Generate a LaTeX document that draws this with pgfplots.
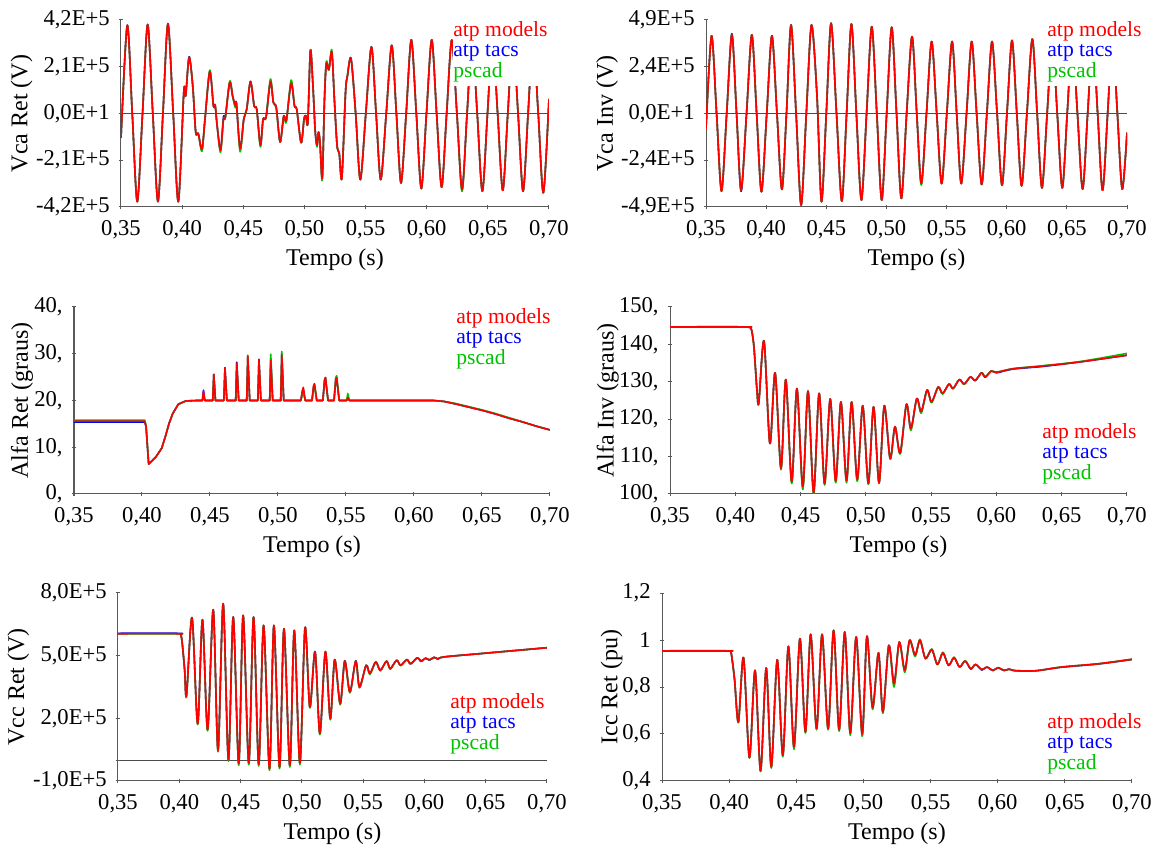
\documentclass[border=0pt]{standalone}
\usepackage{fontspec}
\setmainfont{Liberation Serif}
\usepackage{pgfplots}
\usepackage{pgfplotstable}
\pgfplotsset{compat=1.18}

\definecolor{cmod}{RGB}{255,0,0}
\definecolor{ctac}{RGB}{0,0,255}
\definecolor{cpsc}{RGB}{0,195,0}
\newcommand\lgfont{\fontsize{10.8}{10.25}\selectfont}

% t, atp models (r), atp tacs (b), pscad (g)
\pgfplotstableread{
t r b g
0.3500 -1.10 -1.10 -1.10
0.3551 3.95 3.97 3.95
0.3592 0.00 0.00 0.00
0.3633 -3.96 -3.96 -3.96
0.3676 0.00 0.00 0.00
0.3718 3.99 4.00 3.99
0.3760 0.00 0.00 0.00
0.3802 -3.96 -3.96 -3.96
0.3843 0.00 0.00 0.00
0.3884 4.02 4.04 4.02
0.3927 0.00 0.00 0.00
0.3969 -3.96 -3.96 -3.96
0.4014 1.00 1.00 1.00
0.4029 0.80 0.80 0.80
0.4057 2.52 2.55 2.52
0.4087 1.22 1.22 1.22
0.4111 -0.84 -0.84 -0.84
0.4132 -0.90 -0.90 -0.90
0.4162 -1.60 -1.63 -1.70
0.4187 -0.25 -0.25 -0.25
0.4226 1.89 1.89 1.95
0.4256 0.34 0.34 0.34
0.4270 0.37 0.37 0.40
0.4286 -0.54 -0.54 -0.54
0.4314 -1.65 -1.65 -1.75
0.4338 -0.25 -0.15 -0.25
0.4353 -0.18 -0.18 -0.18
0.4389 1.40 1.40 1.45
0.4413 0.78 0.78 0.78
0.4435 0.34 0.34 0.25
0.4444 0.45 0.45 0.45
0.4474 -1.58 -1.58 -1.72
0.4504 -0.25 -0.25 -0.25
0.4528 0.19 0.19 0.19
0.4559 1.44 1.44 1.44
0.4589 0.34 0.34 0.34
0.4610 0.19 0.19 0.19
0.4640 -1.43 -1.43 -1.50
0.4662 -0.25 -0.25 -0.25
0.4686 -0.18 -0.18 -0.18
0.4722 1.44 1.44 1.55
0.4746 0.49 0.49 0.49
0.4770 0.27 0.27 0.20
0.4801 -1.28 -1.28 -1.28
0.4831 -0.10 -0.10 -0.10
0.4852 -0.32 -0.32 -0.40
0.4891 1.37 1.37 1.50
0.4919 0.34 0.34 0.34
0.4937 0.19 0.19 0.19
0.4973 -1.31 -1.31 -1.31
0.4997 -0.25 -0.25 -0.25
0.5012 -0.10 -0.10 -0.10
0.5028 -0.40 -0.40 -0.40
0.5049 2.84 2.84 2.84
0.5070 1.22 1.22 1.22
0.5088 -0.77 -0.77 -0.77
0.5103 -1.43 -1.43 -1.50
0.5115 -0.84 -0.84 -0.84
0.5127 -1.28 -1.28 -1.28
0.5146 -2.90 -2.90 -3.00
0.5164 0.63 0.63 0.63
0.5179 2.25 2.25 2.35
0.5200 1.96 1.96 1.96
0.5224 2.77 2.77 2.85
0.5245 0.63 0.63 0.63
0.5267 -1.43 -1.43 -1.43
0.5285 -1.80 -1.80 -1.80
0.5306 -2.90 -2.90 -2.90
0.5336 0.93 0.93 0.93
0.5351 1.66 1.66 1.66
0.5381 2.47 2.47 2.47
0.5419 0.00 0.00 0.00
0.5457 -2.97 -2.97 -2.97
0.5502 0.00 0.00 0.00
0.5548 2.99 2.99 2.99
0.5586 0.00 0.00 0.00
0.5624 -2.97 -2.97 -2.97
0.5669 0.00 0.00 0.00
0.5714 3.06 3.06 3.06
0.5752 0.00 0.00 0.00
0.5790 -3.12 -3.12 -3.12
0.5832 0.00 0.00 0.00
0.5874 3.31 3.31 3.31
0.5915 0.00 0.00 0.00
0.5956 -3.37 -3.37 -3.37
0.5998 0.00 0.00 0.00
0.6041 3.31 3.31 3.31
0.6081 0.00 0.00 0.00
0.6122 -3.31 -3.31 -3.31
0.6163 0.00 0.00 0.00
0.6205 3.30 3.30 3.30
0.6247 0.00 0.00 0.00
0.6289 -3.42 -3.42 -3.50
0.6330 0.00 0.00 0.00
0.6371 3.30 3.30 3.30
0.6413 0.00 0.00 0.00
0.6455 -3.49 -3.49 -3.49
0.6497 0.00 0.00 0.00
0.6538 3.35 3.35 3.35
0.6580 0.00 0.00 0.00
0.6622 -3.45 -3.45 -3.45
0.6663 0.00 0.00 0.00
0.6705 3.40 3.40 3.40
0.6747 0.00 0.00 0.00
0.6788 -3.49 -3.49 -3.49
0.6829 0.00 0.00 0.00
0.6870 3.40 3.40 3.40
0.6912 0.00 0.00 0.00
0.6954 -3.56 -3.56 -3.56
0.7000 0.66 0.66 0.66
}\dataVcaRet

\pgfplotstableread{
t r b g
0.3500 -0.80 -0.80 -0.80
0.3546 4.07 4.07 4.07
0.3588 0.00 0.00 0.00
0.3629 -4.07 -4.07 -4.07
0.3672 0.00 0.00 0.00
0.3715 4.12 4.18 4.12
0.3754 0.00 0.00 0.00
0.3792 -4.02 -4.08 -4.02
0.3837 0.00 0.00 0.00
0.3881 4.12 4.12 4.12
0.3921 0.00 0.00 0.00
0.3961 -4.10 -4.10 -4.10
0.4005 0.00 0.00 0.00
0.4048 4.07 4.07 4.07
0.4090 0.00 0.00 0.00
0.4131 -3.98 -3.98 -3.98
0.4169 0.00 0.00 0.00
0.4207 4.64 4.64 4.64
0.4249 0.00 0.00 0.00
0.4291 -4.80 -4.80 -4.80
0.4334 0.00 0.00 0.00
0.4377 4.64 4.64 4.64
0.4423 0.90 0.90 0.90
0.4460 -4.62 -4.62 -4.62
0.4500 0.00 0.00 0.00
0.4540 4.73 4.73 4.73
0.4585 0.00 0.00 0.00
0.4629 -4.59 -4.59 -4.59
0.4669 0.00 0.00 0.00
0.4709 4.69 4.69 4.69
0.4750 0.00 0.00 0.00
0.4792 -4.54 -4.54 -4.54
0.4835 0.00 0.00 0.00
0.4878 4.55 4.55 4.55
0.4920 0.00 0.00 0.00
0.4961 -4.54 -4.54 -4.54
0.5002 0.00 0.00 0.00
0.5044 4.52 4.52 4.52
0.5084 0.00 0.00 0.00
0.5124 -4.45 -4.45 -4.45
0.5168 0.00 0.00 0.00
0.5213 4.03 4.03 4.03
0.5252 0.00 0.00 0.00
0.5290 -3.67 -3.67 -3.75
0.5333 0.00 0.00 0.00
0.5376 3.77 3.77 3.77
0.5418 0.00 0.00 0.00
0.5459 -3.67 -3.67 -3.67
0.5502 0.00 0.00 0.00
0.5546 3.77 3.77 3.77
0.5584 0.00 0.00 0.00
0.5622 -3.67 -3.67 -3.67
0.5666 0.00 0.00 0.00
0.5709 3.77 3.77 3.77
0.5750 0.00 0.00 0.00
0.5792 -3.72 -3.72 -3.72
0.5835 0.00 0.00 0.00
0.5878 3.77 3.77 3.77
0.5920 0.00 0.00 0.00
0.5961 -3.76 -3.76 -3.76
0.6002 0.00 0.00 0.00
0.6044 3.83 3.83 3.83
0.6084 0.00 0.00 0.00
0.6124 -3.79 -3.79 -3.79
0.6168 0.00 0.00 0.00
0.6213 3.90 3.90 3.90
0.6253 0.00 0.00 0.00
0.6293 -3.90 -3.90 -3.90
0.6336 0.00 0.00 0.00
0.6379 3.90 3.90 3.90
0.6420 0.00 0.00 0.00
0.6462 -3.90 -3.90 -3.90
0.6503 0.00 0.00 0.00
0.6545 3.90 3.90 3.90
0.6588 0.00 0.00 0.00
0.6631 -3.96 -3.96 -3.96
0.6673 0.00 0.00 0.00
0.6716 3.95 3.95 3.95
0.6756 0.00 0.00 0.00
0.6797 -4.02 -4.02 -4.02
0.6839 0.00 0.00 0.00
0.6880 3.95 3.95 3.95
0.6920 0.00 0.00 0.00
0.6960 -3.96 -3.96 -3.96
0.7000 -1.00 -1.00 -1.00
}\dataVcaInv

\pgfplotstableread{
t r b g
0.3500 15.6 15.4 15.8
0.4020 15.6 15.4 15.8
0.4030 14.5 14.3 14.7
0.4049 6.4 6.4 6.4
0.4104 8.0 8.0 8.0
0.4145 9.8 9.8 9.8
0.4172 12.3 12.3 12.3
0.4199 15.1 15.1 15.1
0.4226 17.2 17.2 17.2
0.4267 19.2 19.2 19.2
0.4322 19.9 19.9 19.9
0.4403 20.0 20.0 20.0
0.4444 20.0 20.0 20.0
0.4452 22.0 22.2 21.0
0.4462 20.0 20.0 20.0
0.4520 20.0 20.0 20.0
0.4528 25.6 25.6 25.4
0.4540 20.0 20.0 20.0
0.4602 20.0 20.0 20.0
0.4610 27.0 27.0 26.8
0.4624 20.0 20.0 20.0
0.4689 20.0 20.0 20.0
0.4697 28.0 28.2 27.7
0.4711 20.0 20.0 20.0
0.4770 20.0 20.0 20.0
0.4778 29.5 29.3 29.7
0.4792 20.0 20.0 20.0
0.4852 20.0 20.0 20.0
0.4860 28.8 28.8 28.6
0.4874 20.0 20.0 20.0
0.4939 20.0 20.0 20.0
0.4947 28.6 29.0 29.9
0.4961 20.0 20.0 20.0
0.5020 20.0 20.0 20.0
0.5028 29.7 30.0 30.5
0.5042 20.0 20.0 20.0
0.5168 20.0 20.0 20.0
0.5180 22.2 22.0 21.3
0.5186 22.8 22.5 21.8
0.5200 20.0 20.0 20.0
0.5250 20.0 20.0 20.0
0.5262 23.2 23.0 22.8
0.5268 23.6 23.4 23.2
0.5285 20.0 20.0 20.0
0.5330 20.0 20.0 20.0
0.5343 24.5 24.5 24.3
0.5349 24.9 24.9 24.7
0.5368 20.0 20.0 20.0
0.5412 20.0 20.0 20.0
0.5425 24.5 24.6 24.9
0.5431 24.9 25.0 25.3
0.5450 20.0 20.0 20.0
0.5505 20.0 20.0 20.0
0.5513 20.6 20.8 21.5
0.5525 20.0 20.0 20.0
0.6143 20.0 20.0 20.0
0.6220 19.8 19.8 19.8
0.6300 19.3 19.3 19.4
0.6400 18.6 18.6 18.7
0.6500 17.9 17.9 18.0
0.6600 17.1 17.1 17.2
0.6700 16.2 16.2 16.3
0.6800 15.4 15.4 15.4
0.6900 14.5 14.5 14.5
0.7000 13.7 13.7 13.7
}\dataAlfaRet

\pgfplotstableread{
t r b g
0.3500 144.7 144.6 144.7
0.4080 144.7 144.6 144.7
0.4110 144.6 144.5 144.6
0.4125 143.8 143.8 143.8
0.4143 139.3 139.3 139.3
0.4166 127.8 127.8 127.8
0.4180 124.4 124.4 124.4
0.4220 140.9 140.9 140.9
0.4265 113.5 113.5 113.5
0.4305 132.4 132.4 132.4
0.4350 106.9 106.9 106.5
0.4387 130.6 130.6 130.6
0.4432 103.3 103.2 102.8
0.4472 128.2 128.2 128.2
0.4517 102.0 101.8 101.2
0.4557 127.5 127.5 127.5
0.4600 100.4 100.3 100.0
0.4642 126.9 126.9 126.9
0.4684 102.8 102.7 102.4
0.4727 125.4 125.4 125.4
0.4769 103.5 103.4 103.0
0.4809 124.6 124.6 124.6
0.4852 103.6 103.5 103.0
0.4891 124.6 124.6 124.6
0.4934 103.9 103.8 103.4
0.4976 123.6 123.6 123.6
0.5019 102.8 102.8 102.6
0.5059 123.3 123.3 123.3
0.5101 103.0 103.0 102.8
0.5141 123.6 123.6 123.6
0.5186 109.5 109.5 109.3
0.5223 118.0 118.0 118.0
0.5263 110.9 110.9 110.7
0.5311 124.0 124.0 124.0
0.5345 117.5 117.4 117.0
0.5390 125.5 125.5 125.5
0.5424 122.0 122.0 121.6
0.5469 127.8 127.8 127.8
0.5503 124.6 124.6 124.4
0.5554 128.6 128.6 128.6
0.5588 126.9 126.9 126.7
0.5637 129.4 129.4 129.4
0.5668 128.2 128.2 128.1
0.5716 130.6 130.6 130.6
0.5753 129.4 129.4 129.3
0.5801 131.3 131.3 131.3
0.5838 130.4 130.3 130.4
0.5886 132.4 132.4 132.4
0.5914 131.3 131.2 131.4
0.5962 132.9 132.9 132.9
0.6000 132.5 132.4 132.6
0.6127 133.5 133.4 133.5
0.6353 134.2 134.1 134.3
0.6637 135.3 135.3 135.4
0.7000 137.1 137.1 137.6
}\dataAlfaInv

\pgfplotstableread{
t r b g
0.3500 6.05 6.07 6.04
0.3990 6.05 6.07 6.04
0.4012 6.00 6.02 5.99
0.4024 5.60 5.60 5.60
0.4044 4.30 4.30 4.30
0.4059 3.10 3.10 3.05
0.4104 6.82 6.82 6.82
0.4150 1.74 1.74 1.70
0.4189 6.72 6.72 6.72
0.4231 1.46 1.46 1.40
0.4277 7.20 7.20 7.20
0.4316 0.47 0.47 0.40
0.4358 7.49 7.49 7.49
0.4401 0.02 0.00 -0.05
0.4440 6.85 6.85 6.85
0.4485 -0.17 -0.17 -0.25
0.4521 6.93 6.93 6.93
0.4567 -0.14 -0.16 -0.22
0.4606 6.85 6.85 6.85
0.4648 -0.20 -0.22 -0.28
0.4688 6.45 6.45 6.45
0.4736 -0.41 -0.41 -0.49
0.4772 6.45 6.45 6.45
0.4818 -0.33 -0.33 -0.41
0.4854 6.29 6.29 6.29
0.4902 -0.25 -0.27 -0.33
0.4938 6.21 6.21 6.21
0.4984 -0.14 -0.14 -0.22
0.5026 6.34 6.34 6.34
0.5065 2.54 2.54 2.50
0.5108 5.18 5.20 5.18
0.5147 1.27 1.27 1.22
0.5192 5.18 5.20 5.18
0.5232 1.98 1.98 1.93
0.5268 4.81 4.81 4.81
0.5313 2.70 2.70 2.65
0.5350 4.74 4.76 4.74
0.5392 3.26 3.26 3.22
0.5440 4.74 4.76 4.74
0.5470 3.50 3.50 3.46
0.5525 4.54 4.54 4.54
0.5555 4.14 4.14 4.10
0.5603 4.70 4.70 4.70
0.5640 4.30 4.30 4.27
0.5691 4.74 4.74 4.74
0.5721 4.38 4.38 4.35
0.5773 4.78 4.78 4.78
0.5806 4.54 4.54 4.52
0.5857 4.81 4.81 4.81
0.5887 4.62 4.60 4.62
0.5942 4.90 4.90 4.90
0.5972 4.74 4.72 4.74
0.6010 4.88 4.88 4.88
0.6040 4.80 4.78 4.80
0.6080 4.92 4.92 4.92
0.6110 4.85 4.83 4.85
0.6160 4.94 4.94 4.94
0.6462 5.10 5.10 5.10
0.7000 5.38 5.38 5.38
}\dataVccRet

\pgfplotstableread{
t r b g
0.3500 0.953 0.954 0.953
0.3990 0.953 0.954 0.953
0.4012 0.950 0.951 0.950
0.4024 0.910 0.910 0.910
0.4041 0.828 0.828 0.828
0.4069 0.651 0.651 0.648
0.4107 0.925 0.925 0.925
0.4151 0.500 0.500 0.497
0.4193 0.871 0.871 0.871
0.4234 0.443 0.443 0.440
0.4276 0.881 0.881 0.881
0.4314 0.460 0.460 0.455
0.4358 0.916 0.916 0.916
0.4400 0.509 0.509 0.503
0.4441 0.973 0.973 0.973
0.4483 0.545 0.545 0.535
0.4527 1.006 1.006 1.006
0.4568 0.609 0.609 0.604
0.4607 1.024 1.024 1.024
0.4651 0.623 0.623 0.618
0.4692 1.024 1.024 1.024
0.4737 0.623 0.623 0.618
0.4778 1.041 1.041 1.041
0.4819 0.618 0.618 0.612
0.4861 1.034 1.034 1.034
0.4902 0.604 0.604 0.595
0.4946 1.013 1.013 1.013
0.4991 0.599 0.599 0.590
0.5026 1.016 1.016 1.016
0.5068 0.712 0.712 0.705
0.5112 0.945 0.945 0.945
0.5145 0.694 0.694 0.688
0.5189 0.977 0.977 0.977
0.5228 0.814 0.814 0.800
0.5267 0.991 0.991 0.991
0.5308 0.871 0.871 0.862
0.5344 0.999 0.999 0.999
0.5385 0.935 0.935 0.930
0.5421 0.999 0.999 1.003
0.5462 0.921 0.921 0.921
0.5509 0.959 0.959 0.962
0.5551 0.896 0.896 0.896
0.5592 0.945 0.945 0.948
0.5634 0.892 0.892 0.892
0.5675 0.925 0.925 0.927
0.5716 0.885 0.885 0.885
0.5758 0.911 0.911 0.912
0.5799 0.878 0.876 0.878
0.5835 0.896 0.896 0.896
0.5882 0.874 0.872 0.874
0.5918 0.885 0.885 0.885
0.5965 0.871 0.870 0.871
0.6001 0.882 0.882 0.882
0.6048 0.871 0.870 0.871
0.6085 0.876 0.876 0.876
0.6130 0.870 0.869 0.870
0.6282 0.869 0.869 0.869
0.6475 0.885 0.884 0.885
0.6751 0.899 0.898 0.899
0.7000 0.918 0.917 0.918
}\dataIccRet

\pgfplotsset{
  panel/.style={
    scale only axis,
    axis x line*=bottom,
    axis y line*=left,
    axis line style={black!65, line width=0.5pt},
    every tick/.style={black!65, line width=0.5pt},
    tick align=center,
    major tick length=2.3pt,
    xmin=0.35, xmax=0.70,
    xtick={0.35,0.40,0.45,0.50,0.55,0.60,0.65,0.70},
    xticklabels={{0,35},{0,40},{0,45},{0,50},{0,55},{0,60},{0,65},{0,70}},
    tick label style={font=\fontsize{11.3}{13}\selectfont},
    xticklabel style={yshift=-2pt},
    yticklabel style={xshift=-1pt},
    label style={font=\fontsize{12}{14}\selectfont},
    xlabel={Tempo (s)},
    xlabel style={at={(axis description cs:0.5,0)}, anchor=center, yshift=-26.5pt},
  },
  zeroline/.style={
    extra y ticks={0},
    extra y tick labels={},
    extra y tick style={grid=major, major grid style={black!70, line width=0.5pt}},
  },
  wave/.style={line width=0.8pt, line join=round, smooth, tension=0.5},
  sharp/.style={line width=0.8pt, line join=round},
}

\begin{document}
\begin{tikzpicture}
\useasboundingbox (0,0) rectangle (584.5pt,423pt);

% top left
\begin{axis}[panel, zeroline, at={(60.5pt,319.5pt)}, anchor=south west,
  width=214pt, height=93.5pt, ymin=-4.2, ymax=4.2,
  ytick={-4.2,-2.1,0,2.1,4.2},
  yticklabels={-4{,}2E+5,-2{,}1E+5,0{,}0E+1,2{,}1E+5,4{,}2E+5},
  ylabel={Vca Ret (V)},
  ylabel style={at={(axis description cs:-0.232,0.5)}, anchor=center}]
\addplot[ctac, wave] table[x=t, y=b] {\dataVcaRet};
\addplot[cpsc, wave] table[x=t, y=g] {\dataVcaRet};
\addplot[cmod, wave] table[x=t, y=r] {\dataVcaRet};
\end{axis}

% top right
\begin{axis}[panel, zeroline, at={(353pt,319.5pt)}, anchor=south west,
  width=210.5pt, height=93.5pt, ymin=-4.9, ymax=4.9,
  ytick={-4.9,-2.45,0,2.45,4.9},
  yticklabels={-4{,}9E+5,-2{,}4E+5,0{,}0E+1,2{,}4E+5,4{,}9E+5},
  ylabel={Vca Inv (V)},
  ylabel style={at={(axis description cs:-0.235,0.5)}, anchor=center}]
\addplot[ctac, wave] table[x=t, y=b] {\dataVcaInv};
\addplot[cpsc, wave] table[x=t, y=g] {\dataVcaInv};
\addplot[cmod, wave] table[x=t, y=r] {\dataVcaInv};
\end{axis}

% middle left
\begin{axis}[panel, at={(37pt,176pt)}, anchor=south west,
  width=238pt, height=93.5pt, ymin=0, ymax=40,
  ytick={0,10,20,30,40},
  yticklabels={{0,},{10,},{20,},{30,},{40,}},
  ylabel={Alfa Ret (graus)},
  ylabel style={at={(axis description cs:-0.109,0.5)}, anchor=center}]
\addplot[ctac, sharp] table[x=t, y=b] {\dataAlfaRet};
\addplot[cpsc, sharp] table[x=t, y=g] {\dataAlfaRet};
\addplot[cmod, sharp] table[x=t, y=r] {\dataAlfaRet};
\end{axis}

% middle right
\begin{axis}[panel, at={(335pt,176pt)}, anchor=south west,
  width=228.5pt, height=93.5pt, ymin=100, ymax=150,
  ytick={100,110,120,130,140,150},
  yticklabels={{100,},{110,},{120,},{130,},{140,},{150,}},
  ylabel={Alfa Inv (graus)},
  ylabel style={at={(axis description cs:-0.136,0.5)}, anchor=center}]
\addplot[ctac, wave] table[x=t, y=b] {\dataAlfaInv};
\addplot[cpsc, wave] table[x=t, y=g] {\dataAlfaInv};
\addplot[cmod, wave] table[x=t, y=r] {\dataAlfaInv};
\end{axis}

% bottom left
\begin{axis}[panel, zeroline, at={(59pt,32.5pt)}, anchor=south west,
  width=214.5pt, height=94pt, ymin=-1, ymax=8,
  ytick={-1,2,5,8},
  yticklabels={-1{,}0E+5,2{,}0E+5,5{,}0E+5,8{,}0E+5},
  ylabel={Vcc Ret (V)},
  ylabel style={at={(axis description cs:-0.232,0.5)}, anchor=center}]
\addplot[ctac, wave] table[x=t, y=b] {\dataVccRet};
\addplot[cpsc, wave] table[x=t, y=g] {\dataVccRet};
\addplot[cmod, wave] table[x=t, y=r] {\dataVccRet};
\end{axis}

% bottom right
\begin{axis}[panel, at={(331pt,32.5pt)}, anchor=south west,
  width=235pt, height=94pt, ymin=0.4, ymax=1.2,
  ytick={0.4,0.6,0.8,1.0,1.2},
  yticklabels={{0,4},{0,6},{0,8},{1},{1,2}},
  ylabel={Icc Ret (pu)},
  ylabel style={at={(axis description cs:-0.107,0.5)}, anchor=center}]
\addplot[ctac, wave] table[x=t, y=b] {\dataIccRet};
\addplot[cpsc, wave] table[x=t, y=g] {\dataIccRet};
\addplot[cmod, wave] table[x=t, y=r] {\dataIccRet};
\end{axis}

% legend boxes (top panels hide the curves behind them)
\fill[white] (226.5pt,380pt) rectangle (280pt,417pt);
\fill[white] (522.5pt,380pt) rectangle (575pt,417pt);

\foreach \lx/\ly in {226.5/404.65, 523.5/404.65, 228/261, 521/203.5, 225/68.5, 523.5/58.5} {
  \node[anchor=base west, inner sep=0pt, text=cmod, font=\lgfont] at (\lx pt,\ly pt) {atp models};
  \node[anchor=base west, inner sep=0pt, text=ctac, font=\lgfont] at (\lx pt,\ly pt-10pt) {atp tacs};
  \node[anchor=base west, inner sep=0pt, text=cpsc, font=\lgfont] at (\lx pt,\ly pt-20.25pt) {pscad};
}
\end{tikzpicture}
\end{document}
